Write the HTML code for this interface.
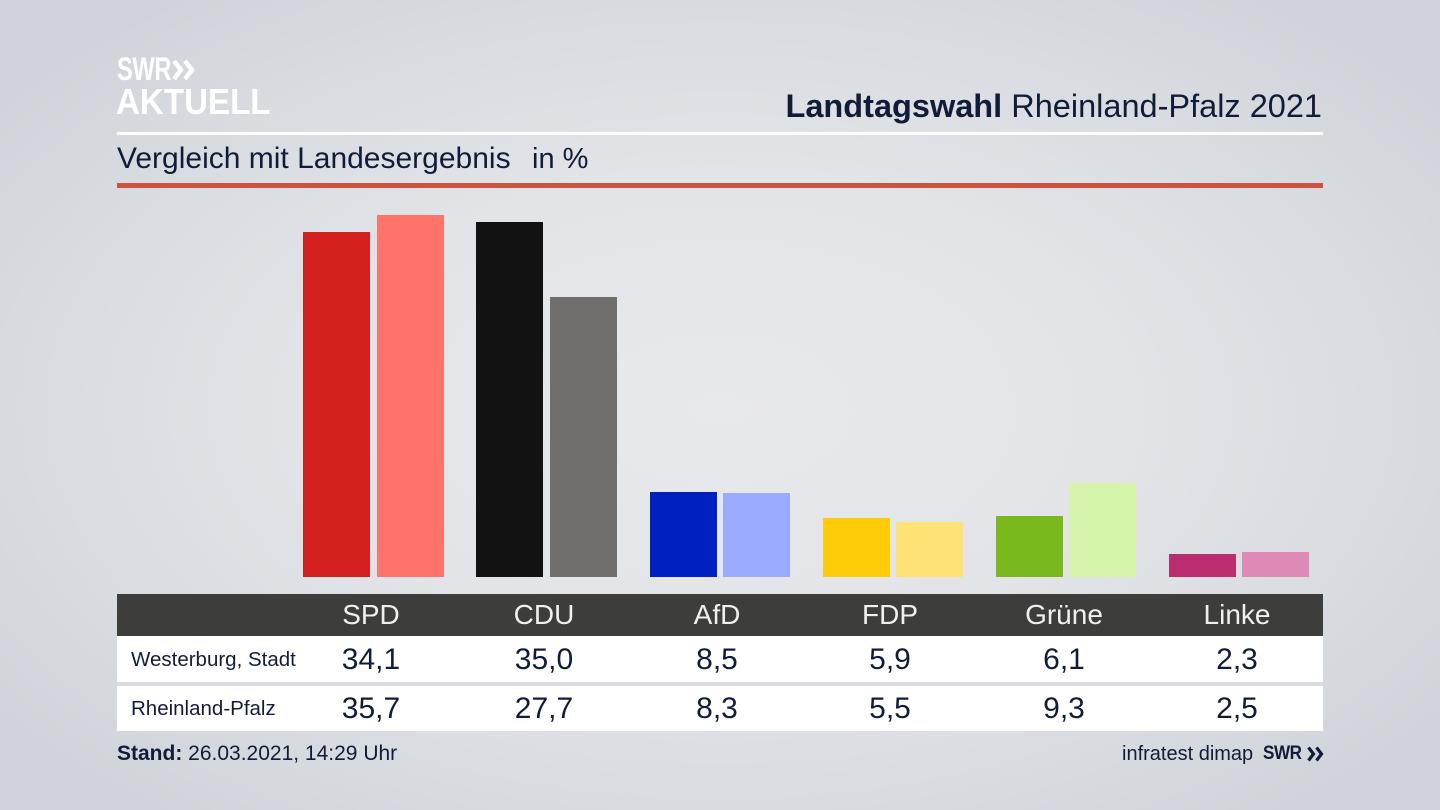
<!DOCTYPE html>
<html>
<head>
<meta charset="utf-8">
<style>
  html, body { margin:0; padding:0; }
  body {
    width:1440px; height:810px; overflow:hidden; position:relative;
    font-family:"Liberation Sans", "DejaVu Sans", sans-serif;
    background: radial-gradient(ellipse 900px 520px at 720px 410px, #e8e9ed 0%, #e2e4e8 45%, #d7dadf 80%, #d0d3d9 100%);
    color:#111d38;
  }
  .abs { position:absolute; }
  .bar { position:absolute; }
  .hdr { position:absolute; top:594px; height:42px; line-height:42px; color:#f0f0f0; font-size:28px; text-align:center; width:160px; }
  .v1 { position:absolute; top:637px; height:45px; line-height:46px; font-size:30px; text-align:center; width:160px; color:#111d38; }
  .v2 { position:absolute; top:686px; height:45px; line-height:46px; font-size:30px; text-align:center; width:160px; color:#111d38; }
</style>
</head>
<body>
  <!-- SWR AKTUELL logo -->
  <div class="abs" style="left:117px; top:52px; font-size:32px; font-weight:bold; color:#fff; line-height:34px; transform:scaleX(0.74); transform-origin:left top; letter-spacing:-0.5px;">SWR</div>
  <svg class="abs" style="left:172px; top:59px;" width="24" height="22" viewBox="0 0 24 22">
    <polyline points="2,2 9,11 2,20" fill="none" stroke="#fff" stroke-width="4.5" stroke-linejoin="miter"/>
    <polyline points="13,2 20,11 13,20" fill="none" stroke="#fff" stroke-width="4.5" stroke-linejoin="miter"/>
  </svg>
  <div class="abs" style="left:116px; top:84px; font-size:36px; font-weight:bold; color:#fff; line-height:36px; transform:scaleX(0.92); transform-origin:left top;">AKTUELL</div>

  <!-- Title -->
  <div class="abs" style="right:118px; top:86px; font-size:32.5px; line-height:40px; color:#111d38; white-space:nowrap;"><b>Landtagswahl</b> Rheinland-Pfalz 2021</div>

  <!-- white line -->
  <div class="abs" style="left:117px; top:132px; width:1206px; height:3px; background:#ffffff;"></div>

  <!-- subtitle -->
  <div class="abs" style="left:117px; top:141px; font-size:30px; line-height:36px; color:#111d38; white-space:nowrap;">Vergleich mit Landesergebnis</div>
  <div class="abs" style="left:532px; top:141px; font-size:29px; line-height:36px; color:#111d38; white-space:nowrap;">in %</div>

  <!-- red line -->
  <div class="abs" style="left:117px; top:183px; width:1206px; height:5px; background:#cd5340;"></div>

  <!-- Bars -->
  <div class="bar" style="left:303px; top:232px; width:67px; height:345px; background:#d41f1f;"></div>
  <div class="bar" style="left:377px; top:215px; width:67px; height:362px; background:#ff736a;"></div>

  <div class="bar" style="left:476px; top:222px; width:67px; height:355px; background:#121212;"></div>
  <div class="bar" style="left:550px; top:297px; width:67px; height:280px; background:#716f6e;"></div>

  <div class="bar" style="left:650px; top:492px; width:67px; height:85px; background:#0020c2;"></div>
  <div class="bar" style="left:723px; top:493px; width:67px; height:84px; background:#9aabff;"></div>

  <div class="bar" style="left:823px; top:518px; width:67px; height:59px; background:#ffcc0a;"></div>
  <div class="bar" style="left:896px; top:522px; width:67px; height:55px; background:#ffe176;"></div>

  <div class="bar" style="left:996px; top:516px; width:67px; height:61px; background:#79b91e;"></div>
  <div class="bar" style="left:1069px; top:483px; width:67px; height:94px; background:#d6f5ab;"></div>

  <div class="bar" style="left:1169px; top:554px; width:67px; height:23px; background:#bc2d6f;"></div>
  <div class="bar" style="left:1242px; top:552px; width:67px; height:25px; background:#df89b6;"></div>

  <!-- Table -->
  <div class="abs" style="left:117px; top:594px; width:1206px; height:42px; background:#3d3d3b;"></div>
  <div class="abs" style="left:117px; top:636px; width:1206px; height:46px; background:#ffffff;"></div>
  <div class="abs" style="left:117px; top:682px; width:1206px; height:4px; background:#d9dbe0;"></div>
  <div class="abs" style="left:117px; top:686px; width:1206px; height:45px; background:#ffffff;"></div>

  <div class="hdr" style="left:291px;">SPD</div>
  <div class="hdr" style="left:464px;">CDU</div>
  <div class="hdr" style="left:637px;">AfD</div>
  <div class="hdr" style="left:810px;">FDP</div>
  <div class="hdr" style="left:984px;">Grüne</div>
  <div class="hdr" style="left:1157px;">Linke</div>

  <div class="abs" style="left:131px; top:637px; height:45px; line-height:46px; font-size:20.5px; color:#111d38; white-space:nowrap;">Westerburg, Stadt</div>
  <div class="abs" style="left:131px; top:686px; height:45px; line-height:46px; font-size:20.5px; color:#111d38; white-space:nowrap;">Rheinland-Pfalz</div>

  <div class="v1" style="left:291px;">34,1</div>
  <div class="v1" style="left:464px;">35,0</div>
  <div class="v1" style="left:637px;">8,5</div>
  <div class="v1" style="left:810px;">5,9</div>
  <div class="v1" style="left:984px;">6,1</div>
  <div class="v1" style="left:1157px;">2,3</div>

  <div class="v2" style="left:291px;">35,7</div>
  <div class="v2" style="left:464px;">27,7</div>
  <div class="v2" style="left:637px;">8,3</div>
  <div class="v2" style="left:810px;">5,5</div>
  <div class="v2" style="left:984px;">9,3</div>
  <div class="v2" style="left:1157px;">2,5</div>

  <!-- Footer -->
  <div class="abs" style="left:117px; top:740px; font-size:21px; line-height:28px; color:#111d38; white-space:nowrap;"><b>Stand:</b> 26.03.2021, 14:29 Uhr</div>
  <div class="abs" style="left:1122px; top:740px; font-size:20px; line-height:28px; color:#111d38; white-space:nowrap;">infratest dimap</div>
  <div class="abs" style="left:1263px; top:740px; font-size:19px; line-height:28px; color:#111d38; white-space:nowrap; font-weight:bold; letter-spacing:-0.5px; transform:scaleX(0.9); transform-origin:left top;">SWR</div>
  <svg class="abs" style="left:1307px; top:746px;" width="17" height="16" viewBox="0 0 17 16">
    <polyline points="1.5,1.5 6.5,8 1.5,14.5" fill="none" stroke="#111d38" stroke-width="3.2"/>
    <polyline points="9.5,1.5 14.5,8 9.5,14.5" fill="none" stroke="#111d38" stroke-width="3.2"/>
  </svg>
</body>
</html>
